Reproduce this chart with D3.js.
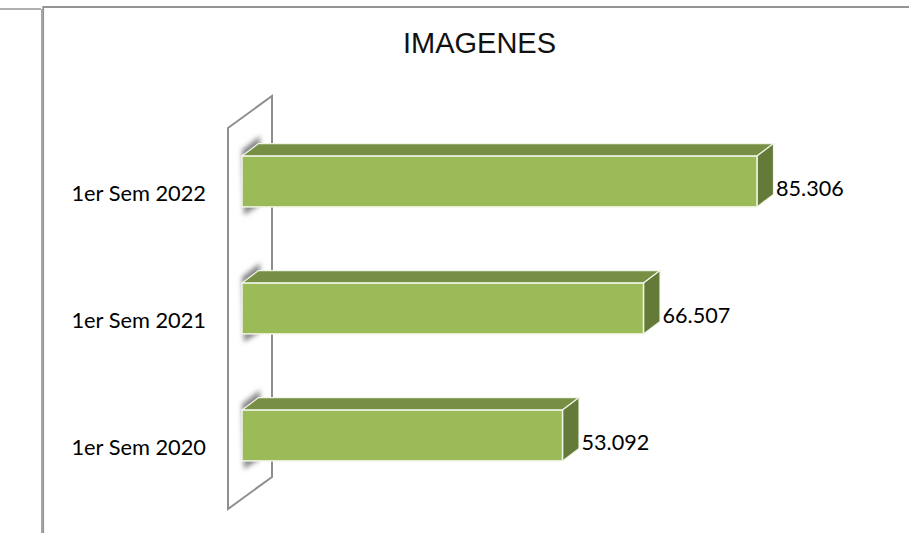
<!DOCTYPE html>
<html><head><meta charset="utf-8">
<script src="https://cdn.jsdelivr.net/npm/d3@7/dist/d3.min.js"></script>
<style>html,body{margin:0;padding:0;background:#fff;overflow:hidden}svg{display:block}</style>
</head><body><svg id="c" width="909" height="533"></svg>
<script>
const categories = ["1er Sem 2022", "1er Sem 2021", "1er Sem 2020"];
const values = [85306, 66507, 53092];
const chartTitle = "IMAGENES";

const svg = d3.select("#c");
const fmt = d3.formatLocale({decimal:",",thousands:".",grouping:[3],currency:["",""]}).format(",d");
const x = d3.scaleLinear().domain([0, 85306]).range([242, 757]);
const y = d3.scaleBand().domain(categories).range([118, 499]).paddingInner(0.6).paddingOuter(0.3);
const dx = 16.5, dy = -12.5;

const defs = svg.append("defs");
defs.append("filter").attr("id","blur").attr("x","-50%").attr("y","-50%").attr("width","200%").attr("height","200%")
  .append("feGaussianBlur").attr("stdDeviation",2.4);

// outer frame
const frame = svg.append("g").attr("fill","none").attr("stroke","#949494");
frame.append("path").attr("d","M0,9H41").attr("stroke-width",1.6);
frame.append("path").attr("d","M43.2,533V7H909").attr("stroke-width",1.8);
frame.append("path").attr("d","M41.8,9V533").attr("stroke-width",1.2).attr("stroke","#8e8e8e");

// title
svg.append("text").text(chartTitle).attr("x",479.5).attr("y",53)
  .attr("text-anchor","middle").attr("font-family","'Liberation Sans',Arial,sans-serif")
  .attr("font-size",29).attr("fill","#111");

// wall
svg.append("path").attr("d","M228,128L272,96V477L228,509Z")
  .attr("fill","#fff").attr("stroke","#8e8e8e").attr("stroke-width",2).attr("stroke-linejoin","miter");

// shadows on wall
svg.append("g").selectAll("path").data(categories).join("path")
  .attr("d", c => {
    const t = y(c), b = t + y.bandwidth();
    return `M242,${t-6}L260,${t-20}V${t}L260,${b-2}L244,${b+8}Z`;
  })
  .attr("fill","#858585").attr("filter","url(#blur)");

// bars
const bars = svg.append("g").selectAll("g").data(categories.map((c,i)=>({c,v:values[i]}))).join("g");
const x0 = x(0);
bars.append("path").attr("d", d => {
    const t = y(d.c), r = x(d.v);
    return `M${x0},${t}l${dx},${dy}H${r+dx}L${r},${t}Z`;
  }).attr("fill","#778f45").attr("stroke","#f1f5e8").attr("stroke-width",1.2);
bars.append("path").attr("d", d => {
    const t = y(d.c), r = x(d.v), h = y.bandwidth();
    return `M${r},${t}l${dx},${dy}v${h}l${-dx},${-dy}Z`;
  }).attr("fill","#647a38").attr("stroke","#f1f5e8").attr("stroke-width",1.2);
bars.append("rect").attr("x",x0).attr("y",d=>y(d.c)).attr("width",d=>x(d.v)-x0).attr("height",y.bandwidth())
  .attr("fill","#9bbb59").attr("stroke","#f1f5e8").attr("stroke-width",1.5);

// value labels
bars.append("text").text(d=>fmt(d.v)).attr("x",d=>x(d.v)+19).attr("y",d=>y(d.c)+y.bandwidth()/2+14)
  .attr("font-family","Lato,sans-serif").attr("font-size",21.6).attr("fill","#000");

// category labels
const axis = d3.axisLeft(y).tickSize(0).tickPadding(0);
const ag = svg.append("g").attr("transform","translate(206,13)").call(axis);
ag.select(".domain").remove();
ag.selectAll("text").attr("font-family","Lato,sans-serif").attr("font-size",21.8).attr("fill","#000");
</script></body></html>
